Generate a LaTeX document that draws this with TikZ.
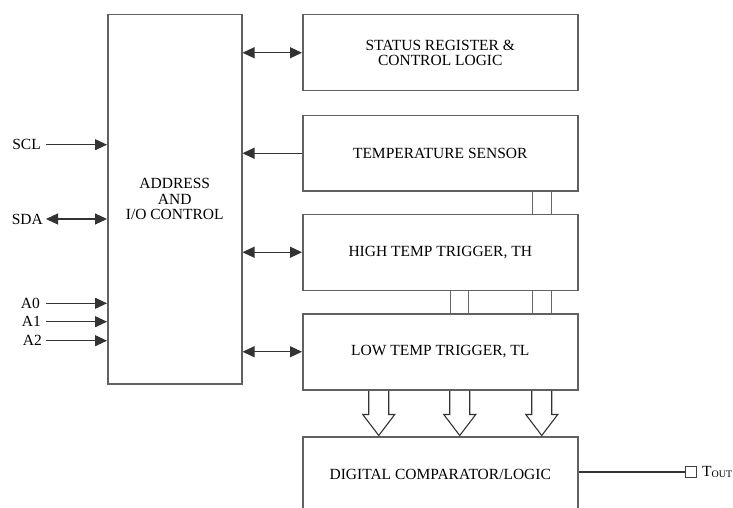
\documentclass[tikz,border=0pt]{standalone}
\usepackage{fontspec}
\setmainfont{Liberation Serif}
\usetikzlibrary{arrows.meta}
\begin{document}
\begin{tikzpicture}[x=1pt,y=-1pt,
  txt/.style={font=\fontsize{15.5}{15.5}\selectfont},
  blk/.style={txt,draw=black!62,line width=1.5pt,minimum width=275pt,
    minimum height=76pt,anchor=north west,inner sep=0pt,align=center},
  sig/.style={draw=black!80,line width=1.1pt},
  tip/.style={-{Triangle[length=12pt,width=11pt]}},
  dbl/.style={{Triangle[length=12pt,width=11pt]}-{Triangle[length=12pt,width=11pt]}},
  bus/.style={draw=black!60,line width=1pt},
  pin/.style={txt,inner sep=0pt,anchor=east},
  busarrow/.pic={\draw[sig,line join=miter]
    (-10,0) -- (-10,24) -- (-16,24) -- (0,45) -- (16,24) -- (10,24) -- (10,0);}
]
\useasboundingbox (0,0) rectangle (733,508);
\clip (0,0) rectangle (733,508);

% address / IO control block
\node[blk,minimum width=134pt,minimum height=369pt] (ab) at (107,14)
  {ADDRESS\\AND\\I/O CONTROL};

% register blocks
\node[blk] (st) at (302,14) {STATUS REGISTER \&\\CONTROL LOGIC};
\node[blk,minimum height=75pt] (ts) at (302,115) {TEMPERATURE SENSOR};
\node[blk] (ht) at (302,213.5) {HIGH TEMP TRIGGER, TH};
\node[blk] (lt) at (302,313) {LOW TEMP TRIGGER, TL};
\node[blk] (dc) at (302,436) {DIGITAL COMPARATOR/LOGIC};

% connections to the address block
\draw[sig,dbl] (ab.east |- st.west) -- (st.west);
\draw[sig,tip] (ts.west) -- (ts.west -| ab.east);
\draw[sig,dbl] (ab.east |- ht.west) -- (ht.west);
\draw[sig,dbl] (ab.east |- lt.west) -- (lt.west);

% serial bus and address pins
\node[pin] (scl) at (41,144.7) {SCL};
\node[pin] (sda) at (43,219) {SDA};
\node[pin] (a0) at (40,303.3) {A0};
\node[pin] (a1) at (41,321.7) {A1};
\node[pin] (a2) at (42,340.7) {A2};
\draw[sig,tip] ([xshift=5]scl.east) -- (scl.east -| ab.west);
\draw[sig,dbl] ([xshift=3]sda.east) -- (sda.east -| ab.west);
\draw[sig,tip] ([xshift=6]a0.east) -- (a0.east -| ab.west);
\draw[sig,tip] ([xshift=5]a1.east) -- (a1.east -| ab.west);
\draw[sig,tip] ([xshift=4]a2.east) -- (a2.east -| ab.west);

% internal data paths
\draw[bus] ([xshift=92.5]ts.south) -- ([xshift=92.5]ht.north);
\draw[bus] ([xshift=111.5]ts.south) -- ([xshift=111.5]ht.north);
\draw[bus] ([xshift=10.5]ht.south) -- ([xshift=10.5]lt.north);
\draw[bus] ([xshift=28.5]ht.south) -- ([xshift=28.5]lt.north);
\draw[bus] ([xshift=92.5]ht.south) -- ([xshift=92.5]lt.north);
\draw[bus] ([xshift=111.5]ht.south) -- ([xshift=111.5]lt.north);

% wide arrows into the comparator
\pic at ([xshift=-61.5]lt.south) {busarrow};
\pic at ([xshift=19.5]lt.south) {busarrow};
\pic at ([xshift=101.5]lt.south) {busarrow};

% thermostat output
\node[draw=black!75,line width=1pt,minimum size=11pt,inner sep=0pt] (sq) at (691,472) {};
\node[txt,anchor=west,inner sep=0pt] (tout) at (702,472)
  {T\raisebox{-1.5pt}{\fontsize{10}{10}\selectfont OUT}};
\draw[sig] (dc.east |- sq.west) -- (sq.west);
\end{tikzpicture}
\end{document}
